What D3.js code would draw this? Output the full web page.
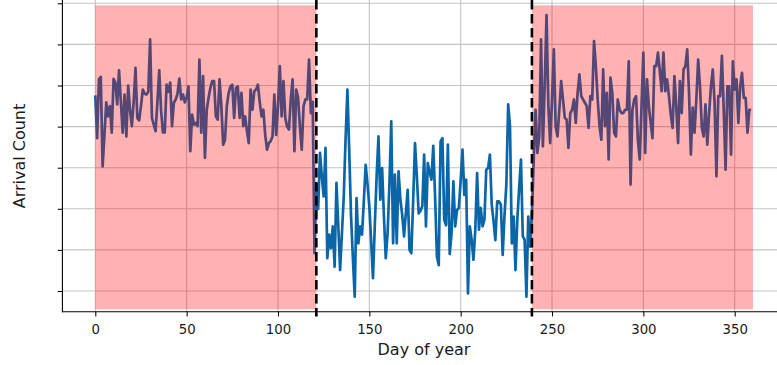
<!DOCTYPE html>
<html>
<head>
<meta charset="utf-8">
<script src="https://cdn.jsdelivr.net/npm/d3@7"></script>
<style>
  html, body { margin: 0; padding: 0; background: #fff; }
  svg { display: block; font-family: "DejaVu Sans", sans-serif; }
</style>
</head>
<body>
<svg id="chart" width="777" height="365"></svg>
<script>
// ---------------- data ----------------
const arrivals = [
  // days 0-54
  57.6, 47.2, 61.5, 62.1, 40.3, 48, 55.9, 52.5, 55.0, 48.5,
  61.6, 60.7, 55.4, 63.7, 56, 48.5, 57.8, 47.6, 60.0, 54.1,
  50.1, 56, 64.3, 52.1, 51.5, 55, 59, 58, 57.8, 58.5,
  71.2, 52.1, 50.5, 48.9, 56, 63.7, 54, 48.6, 48.6, 60.2,
  58.5, 60.7, 50.1, 55.8, 56.6, 58, 61.7, 56.6, 57.8, 55.9,
  57, 59.8, 44.0, 52.9, 50.5,
  // days 55-120
  50.9, 50.1, 66.3, 48.5, 62.3, 42.4, 54.1, 57, 59.4, 61.1,
  61.1, 52.5, 51.7, 61.5, 55.0, 45.6, 46.8, 55, 58.2, 59.8,
  60.2, 52.1, 59.4, 59.8, 52.1, 58.2, 50.1, 52.5, 49, 46.0,
  59.0, 54.1, 58.6, 59.0, 60.2, 56, 52.5, 54.1, 48, 44.4,
  46.0, 46.5, 47.6, 57.8, 48.0, 55.0, 64.7, 52.5, 61.1, 52.1,
  50, 49.3, 56.6, 61.5, 44.0, 59.0, 57.0, 50, 44.4, 55.0,
  56.6, 56.6, 66.3, 53.3, 56, 19.2,
  // days 121-185
  36, 30, 43.6, 37.9, 33.0, 44.8, 18.0, 23.7, 20.4, 25.7,
  15.9, 36.3, 26, 15.1, 24, 33.0, 47, 59.0, 44, 28.1,
  18, 8.6, 32.6, 21.6, 25.7, 23.7, 32, 40.7, 36, 30.6,
  22, 13.1, 26, 38, 47.6, 32.2, 39.9, 28, 18.0, 24.1,
  36, 51.3, 21.6, 38.3, 21.6, 39.1, 32.2, 28.5, 23.3, 29,
  34.6, 20.0, 19.2, 32, 46.0, 38, 28.9, 29.5, 30.6, 43.2,
  25.7, 41.1, 39, 37.1, 45.3,
  // days 186-239
  33.0, 18.4, 16.3, 46.4, 47.2, 27.3, 26, 45.6, 19.0, 24.1,
  36.7, 25.7, 29.7, 30.2, 37, 44.4, 33.4, 37.1, 9.4, 25.7,
  22.5, 17.6, 24.9, 38.7, 24.9, 30.2, 25.7, 27.4, 39.5, 39.9,
  43.2, 31.0, 27, 22.4, 31.8, 31.8, 31.0, 18.8, 28.5, 35.9,
  55.4, 50.1, 21.6, 28.1, 15.1, 27.3, 35, 42.0, 23.3, 22.5,
  8.6, 28.1, 20.8, 28.9,
  // days 240-302
  42.0, 54.1, 43.6, 47.6, 71.2, 45.2, 60, 77.1, 55, 46.0,
  56.6, 68.8, 50, 47.6, 54.1, 61.1, 56.6, 52.1, 51.7, 44.8,
  53.3, 54.1, 56.6, 50.9, 58.2, 62.7, 57.4, 56.6, 55.8, 55.0,
  49.7, 57.4, 56.6, 70.8, 64.7, 56.6, 50.1, 46.8, 63.9, 50.1,
  58.2, 42.0, 61.9, 58.2, 48.5, 47.6, 56.6, 54.1, 53.3, 53.3,
  54.1, 54.1, 65.9, 35.9, 54.1, 56.6, 57.4, 46.8, 42.0, 55.0,
  68.0, 43.6, 61.5,
  // days 303-359
  55.0, 50.9, 47.2, 64.7, 64.7, 68.0, 63.5, 58.6, 68.0, 58.6,
  61.5, 57.4, 52.9, 49.7, 62.3, 55, 46.0, 61.1, 53.3, 63.9,
  64.7, 68.8, 58.2, 43.2, 54.6, 48.5, 56.6, 66.3, 59.8, 49.7,
  47.6, 55.4, 45.6, 53.3, 59.8, 63.9, 55.8, 37.9, 57.4, 57.4,
  67.2, 54.1, 39.5, 59.8, 59.8, 43.2, 65.9, 59.0, 61.5, 50.9,
  59.8, 63.1, 57.0, 57.0, 48.5, 54.1, 54.1
];
const days = arrivals.map((_, i) => i);
const xTicks = [0, 50, 100, 150, 200, 250, 300, 350];
const yTicks = [10, 20, 30, 40, 50, 60, 70, 80];
const shadedStarts = [0, 239];
const shadedEnds = [121, 360];
const cutoffDays = [121, 239];
const xLabel = "Day of year";
const yLabel = "Arrival Count";

// ---------------- layout ----------------
const svg = d3.select("#chart");
const x = d3.scaleLinear().domain([0, 350]).range([95.3, 734.7]);
const y = d3.scaleLinear().domain([10, 80]).range([291, 3.3]);
const plotLeft = x(-18), plotRight = 777, plotBottom = 311.7, plotTop = 0;

// grid
const grid = svg.append("g");
grid.selectAll(".gx").data(xTicks).join("line")
  .attr("x1", d => x(d)).attr("x2", d => x(d))
  .attr("y1", plotTop).attr("y2", plotBottom)
  .attr("stroke", "#c4c4c4").attr("stroke-width", 1.1);
grid.selectAll(".gy").data(yTicks).join("line")
  .attr("x1", plotLeft).attr("x2", plotRight)
  .attr("y1", d => y(d)).attr("y2", d => y(d))
  .attr("stroke", "#c4c4c4").attr("stroke-width", 1.1);

// series line
const line = d3.line().x((d, i) => x(days[i])).y(d => y(d));
svg.append("path").datum(arrivals)
  .attr("d", line)
  .attr("fill", "none")
  .attr("stroke", "#0b66a8")
  .attr("stroke-width", 2.7)
  .attr("stroke-linejoin", "round");

// shaded spans (drawn over the line, like axvspan with alpha)
svg.append("g").selectAll("rect").data(shadedStarts).join("rect")
  .attr("x", d => x(d))
  .attr("width", (d, i) => x(shadedEnds[i]) - x(d))
  .attr("y", 5.3).attr("height", 309.3 - 5.3)
  .attr("fill", "#ff0000").attr("fill-opacity", 0.3);

// axes
const xAxis = d3.axisBottom(x).tickValues(xTicks).tickSize(4.7).tickPadding(8).tickSizeOuter(0);
const gx = svg.append("g").attr("transform", `translate(0,${plotBottom})`).call(xAxis);
gx.select(".domain").remove();
gx.selectAll(".tick line").attr("stroke", "#000").attr("stroke-width", 1.05);
gx.selectAll(".tick text").attr("fill", "#1a1a1a")
  .style("font-family", "'DejaVu Sans', sans-serif").style("font-size", "13.3px");

const yAxis = d3.axisLeft(y).tickValues(yTicks).tickSize(4.7).tickFormat("").tickSizeOuter(0);
const gy = svg.append("g").attr("transform", `translate(${plotLeft},0)`).call(yAxis);
gy.select(".domain").remove();
gy.selectAll(".tick line").attr("stroke", "#000").attr("stroke-width", 1.05);

// spines
svg.append("line").attr("x1", plotLeft).attr("x2", plotLeft).attr("y1", 0).attr("y2", plotBottom + 0.5)
  .attr("stroke", "#000").attr("stroke-width", 1.1);
svg.append("line").attr("x1", plotLeft - 0.5).attr("x2", plotRight).attr("y1", plotBottom).attr("y2", plotBottom)
  .attr("stroke", "#000").attr("stroke-width", 1.1);

// cutoff dashed lines
svg.append("g").selectAll("line").data(cutoffDays).join("line")
  .attr("x1", d => x(d)).attr("x2", d => x(d))
  .attr("y1", 0).attr("y2", 316.5)
  .attr("stroke", "#000").attr("stroke-width", 2.6)
  .attr("stroke-dasharray", "9.6,4.4");

// labels
svg.append("text").attr("x", 424).attr("y", 354.5)
  .attr("text-anchor", "middle").attr("fill", "#1a1a1a")
  .style("font-size", "16px").text(xLabel);
svg.append("text")
  .attr("transform", "translate(25,156) rotate(-90)")
  .attr("text-anchor", "middle").attr("fill", "#1a1a1a")
  .style("font-size", "16px").text(yLabel);
</script>
</body>
</html>
